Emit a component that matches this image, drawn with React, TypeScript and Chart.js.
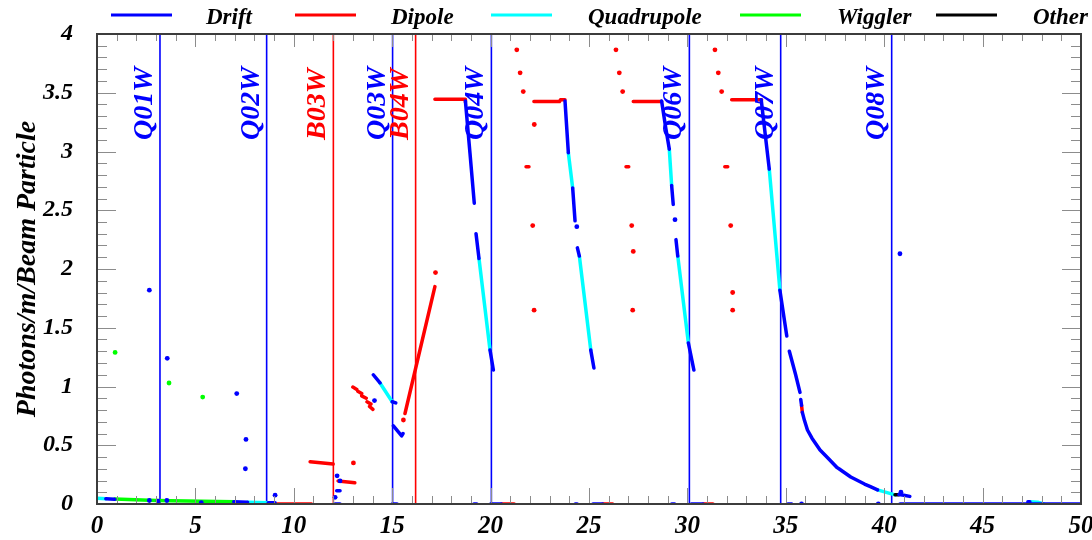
import React, { useEffect, useRef } from 'react';
import { Chart, registerables } from 'chart.js';
Chart.register(...registerables);

type Pt = [number, number];
type Seg = Pt[];

// ---- data (x in m, y in photons/m/beam particle); single-point segments are dots
const DRIFT: Seg[] = [
  [[0.45, 0.045], [0.9, 0.04]],
  [[2.66, 0.03]], [[3.1, 0.025]], [[3.55, 0.03]], [[5.3, 0.012]],
  [[6.95, 0.02], [7.65, 0.015]],
  [[8.7, 0.01], [9.05, 0.01]],
  [[2.66, 1.82]], [[3.57, 1.24]], [[7.1, 0.94]], [[7.57, 0.55]], [[7.54, 0.3]], [[9.05, 0.075]],
  [[12.1, 0.057]], [[12.18, 0.113], [12.35, 0.113]], [[12.2, 0.24]], [[12.35, 0.196]], [[12.1, 0], [12.35, 0]],
  [[14.04, 1.1], [14.38, 1.03]], [[15.0, 0.87], [15.18, 0.86]],
  [[14.1, 0.88]],
  [[15.06, 0.665], [15.48, 0.58], [15.55, 0.6]],
  [[15.0, 0], [15.25, 0]], [[19.15, 0], [19.3, 0]], [[20.0, 0], [20.55, 0]], [[24.3, 0], [24.4, 0]],
  [[25.2, 0], [25.7, 0]], [[29.2, 0], [29.35, 0]], [[30.2, 0], [30.8, 0]], [[35.1, 0], [35.3, 0]],
  [[35.8, 0]], [[39.7, 0]], [[40.8, 0], [50, 0]],
  [[18.72, 3.43], [18.95, 2.99], [19.17, 2.56]], [[19.26, 2.3], [19.41, 2.09]], [[19.97, 1.31], [20.14, 1.14]],
  [[23.78, 3.43], [23.95, 2.99]], [[24.17, 2.69], [24.29, 2.41]], [[24.38, 2.36]], [[24.41, 2.18], [24.51, 2.11]], [[25.09, 1.31], [25.25, 1.157]],
  [[28.69, 3.43], [28.9, 3.2], [29.08, 3.02]], [[29.2, 2.71], [29.28, 2.55]], [[29.37, 2.42]], [[29.42, 2.25], [29.51, 2.11]], [[30.05, 1.37], [30.33, 1.14]],
  [[33.75, 3.44], [34.16, 2.85]], [[34.7, 1.82], [35.05, 1.43]], [[35.18, 1.3], [35.5, 1.1], [35.72, 0.95]], [[35.76, 0.89], [35.8, 0.84]],
  [[35.84, 0.78], [35.95, 0.71], [36.1, 0.63], [36.33, 0.56], [36.74, 0.46], [37.15, 0.39], [37.6, 0.31], [37.7, 0.3],
   [38.3, 0.23], [39.0, 0.17], [39.3, 0.148], [39.66, 0.12]],
  [[40.75, 0.08], [41.0, 0.075], [41.3, 0.065]], [[40.85, 0.1]],
  [[40.8, 2.13]],
  [[47.3, 0.02], [47.4, 0.02]],
];

const DIPOLE: Seg[] = [
  [[9.13, 0], [10.9, 0]],
  [[10.83, 0.36], [12.0, 0.34]],
  [[12.25, 0.196], [13.1, 0.18]],
  [[13.03, 0.35]],
  [[13.0, 0.995], [13.2, 0.975]], [[13.25, 0.96], [13.45, 0.94]], [[13.45, 0.92], [13.68, 0.9]],
  [[13.72, 0.87], [13.92, 0.85]], [[13.85, 0.83], [14.02, 0.805]],
  [[15.57, 0.715]],
  [[15.65, 0.77], [17.17, 1.85]],
  [[17.2, 1.97]],
  [[17.17, 3.445], [18.72, 3.445], [18.72, 3.42]],
  [[21.33, 3.865]], [[21.5, 3.67]], [[21.66, 3.51]], [[22.22, 3.23]], [[21.8, 2.87], [21.95, 2.87]], [[22.14, 2.37]], [[22.21, 1.65]],
  [[22.2, 3.425], [23.5, 3.425], [23.55, 3.44], [23.78, 3.44]],
  [[20.55, 0], [21.2, 0]], [[25.7, 0], [26.2, 0]], [[30.8, 0], [31.3, 0]],
  [[26.37, 3.865]], [[26.54, 3.67]], [[26.71, 3.51]], [[26.88, 2.87], [27.02, 2.87]], [[27.17, 2.37]], [[27.25, 2.15]], [[27.22, 1.65]],
  [[27.25, 3.425], [28.69, 3.425]],
  [[31.4, 3.865]], [[31.57, 3.67]], [[31.74, 3.51]], [[31.9, 2.87], [32.05, 2.87]], [[32.2, 2.37]], [[32.3, 1.8]], [[32.3, 1.65]],
  [[32.25, 3.44], [33.77, 3.44]],
  [[35.8, 0.84], [35.84, 0.78]],
];

const QUADRUPOLE: Seg[] = [
  [[0, 0.05], [0.45, 0.045]],
  [[7.65, 0.015], [8.7, 0.01]],
  [[14.38, 1.03], [15.0, 0.87]],
  [[19.41, 2.09], [19.97, 1.31]],
  [[23.95, 2.99], [24.17, 2.69]],
  [[24.51, 2.11], [25.09, 1.31]],
  [[29.08, 3.02], [29.2, 2.71]],
  [[29.51, 2.11], [30.05, 1.37]],
  [[34.16, 2.85], [34.7, 1.82]],
  [[39.66, 0.12], [40.55, 0.078]],
  [[47.4, 0.02], [47.8, 0.015], [48.1, 0]],
];

const WIGGLER: Seg[] = [
  [[0.9, 0.042], [3.0, 0.03], [6.95, 0.02]],
  [[0.92, 1.29]], [[3.66, 1.03]], [[5.37, 0.91]],
];

const OTHER: Seg[] = [
  [[40.55, 0.078], [40.75, 0.078]],
];

const MAGNET_NAMES = ['Q01W', 'Q02W', 'B03W', 'Q03W', 'B04W', 'Q04W', 'Q06W', 'Q07W', 'Q08W'];
const MAGNET_POS = [3.2, 8.62, 12.01, 15.02, 16.19, 20.04, 30.1, 34.74, 40.38];
const MAGNET_KIND = ['Q', 'Q', 'B', 'Q', 'B', 'Q', 'Q', 'Q', 'Q'];

const LEGEND_LABELS = ['Drift', 'Dipole', 'Quadrupole', 'Wiggler', 'Other'];
const Y_TITLE = 'Photons/m/Beam Particle';
const X_MIN = 0, X_MAX = 50, X_STEP = 5, X_MINOR = 1;
const Y_MIN = 0, Y_MAX = 4, Y_STEP = 0.5, Y_MINOR = 0.1;

// ---- styles / layout
const BLUE = 'rgb(0,0,255)';
const RED = 'rgb(255,0,0)';
const CYAN = 'rgb(0,255,255)';
const GREEN = 'rgb(0,255,0)';
const BLACK = 'rgb(0,0,0)';
const LEGEND_COLORS = [BLUE, RED, CYAN, GREEN, BLACK];
const LEGEND_LINE_X = [111, 295, 491, 740, 936];
const LEGEND_TEXT_X = [206, 391, 588, 837, 1033];
const FONT = "'Liberation Serif', 'Times New Roman', serif";

function toData(segs: Seg[]) {
  const out: { x: number; y: number | null }[] = [];
  segs.forEach((s, i) => {
    if (i > 0) out.push({ x: s[0][0], y: null });
    s.forEach(([x, y]) => out.push({ x, y }));
  });
  return out;
}

function magnetData(kind: string) {
  const segs: Seg[] = [];
  MAGNET_POS.forEach((p, i) => {
    if (MAGNET_KIND[i] === kind) segs.push([[p, Y_MIN], [p, Y_MAX]]);
  });
  return toData(segs);
}

const dotRadius = (ctx: any) => {
  const d = ctx.dataset.data;
  const i = ctx.dataIndex;
  const prev = d[i - 1];
  const next = d[i + 1];
  const iso = (!prev || prev.y === null) && (!next || next.y === null);
  return iso ? 2.4 : 0;
};

function series(label: string, segs: Seg[], color: string, order: number) {
  return {
    label,
    data: toData(segs),
    showLine: true,
    spanGaps: false,
    borderColor: color,
    backgroundColor: color,
    borderWidth: 3.5,
    borderCapStyle: 'round',
    borderJoinStyle: 'round',
    tension: 0,
    pointRadius: dotRadius,
    pointBorderWidth: 0,
    pointHoverRadius: 0,
    order,
  };
}

const framePlugin = {
  id: 'frameTicks',
  afterDatasetsDraw(chart: any) {
    const { ctx, chartArea: a, scales } = chart;
    const xs = scales.x, ys = scales.y;
    ctx.save();
    // magnet labels
    ctx.font = `italic bold 28px ${FONT}`;
    ctx.textAlign = 'left';
    ctx.textBaseline = 'alphabetic';
    MAGNET_NAMES.forEach((n, i) => {
      const px = xs.getPixelForValue(MAGNET_POS[i]);
      ctx.save();
      ctx.translate(px - 8, 140);
      ctx.rotate(-Math.PI / 2);
      ctx.fillStyle = MAGNET_KIND[i] === 'Q' ? BLUE : RED;
      ctx.fillText(n, 0, 0);
      ctx.restore();
    });
    // ticks
    ctx.strokeStyle = '#8c8c8c';
    ctx.lineWidth = 1;
    ctx.beginPath();
    const nx = Math.round((X_MAX - X_MIN) / X_MINOR);
    for (let k = 0; k <= nx; k++) {
      const v = X_MIN + k * X_MINOR;
      const px = Math.round(xs.getPixelForValue(v)) + 0.5;
      const major = k % Math.round(X_STEP / X_MINOR) === 0;
      ctx.moveTo(px, a.bottom);
      ctx.lineTo(px, a.bottom - (major ? 16 : 8));
      ctx.moveTo(px, a.top);
      ctx.lineTo(px, a.top + (major ? 13 : 7));
    }
    const ny = Math.round((Y_MAX - Y_MIN) / Y_MINOR);
    for (let k = 0; k <= ny; k++) {
      const v = Y_MIN + k * Y_MINOR;
      const py = Math.round(ys.getPixelForValue(v)) + 0.5;
      const major = k % Math.round(Y_STEP / Y_MINOR) === 0;
      ctx.moveTo(a.left, py);
      ctx.lineTo(a.left + (major ? 19 : 10), py);
      ctx.moveTo(a.right, py);
      ctx.lineTo(a.right - (major ? 19 : 10), py);
    }
    ctx.stroke();
    // frame
    ctx.strokeStyle = '#3c3c3c';
    ctx.lineWidth = 2;
    ctx.strokeRect(a.left, a.top, a.right - a.left, a.bottom - a.top);
    // legend
    ctx.font = `italic bold 23px ${FONT}`;
    ctx.textAlign = 'left';
    ctx.textBaseline = 'alphabetic';
    LEGEND_LABELS.forEach((l, i) => {
      ctx.strokeStyle = LEGEND_COLORS[i];
      ctx.lineWidth = 3;
      ctx.beginPath();
      ctx.moveTo(LEGEND_LINE_X[i], 15);
      ctx.lineTo(LEGEND_LINE_X[i] + 61, 15);
      ctx.stroke();
      ctx.fillStyle = BLACK;
      ctx.fillText(l, LEGEND_TEXT_X[i], 23.5);
    });
    ctx.restore();
  },
};

const fmt = (v: any) => String(Math.round(Number(v) * 100) / 100);

export default function App() {
  const ref = useRef<HTMLCanvasElement | null>(null);
  useEffect(() => {
    if (!ref.current) return;
    const chart = new Chart(ref.current, {
      type: 'scatter',
      data: {
        datasets: [
          series('Drift', DRIFT, BLUE, 1),
          series('Other', OTHER, BLACK, 2),
          series('Dipole', DIPOLE, RED, 3),
          series('Quadrupole', QUADRUPOLE, CYAN, 4),
          series('Wiggler', WIGGLER, GREEN, 5),
          {
            label: 'Q magnets', data: magnetData('Q'), showLine: true, spanGaps: false,
            borderColor: BLUE, borderWidth: 1.6, pointRadius: 0, pointHoverRadius: 0, order: 10,
          },
          {
            label: 'B magnets', data: magnetData('B'), showLine: true, spanGaps: false,
            borderColor: RED, borderWidth: 1.6, pointRadius: 0, pointHoverRadius: 0, order: 11,
          },
        ] as any,
      },
      options: {
        animation: false,
        responsive: false,
        events: [],
        layout: { padding: { top: 34, right: 11, left: 0, bottom: 0 } },
        plugins: { legend: { display: false }, tooltip: { enabled: false } },
        scales: {
          x: {
            type: 'linear', min: X_MIN, max: X_MAX,
            afterFit: (s: any) => { s.height = 36; s.paddingLeft = 0; s.paddingRight = 0; },
            grid: { display: false, drawTicks: false, tickLength: 0 },
            border: { display: false },
            ticks: {
              stepSize: X_STEP, autoSkip: false, maxRotation: 0, padding: 8, color: BLACK,
              callback: fmt,
              font: { family: FONT, size: 25, weight: 'bold', style: 'italic' },
            },
          },
          y: {
            type: 'linear', min: Y_MIN, max: Y_MAX,
            afterFit: (s: any) => { s.width = 97; s.paddingTop = 0; s.paddingBottom = 0; },
            grid: { display: false, drawTicks: false, tickLength: 0 },
            border: { display: false },
            ticks: {
              stepSize: Y_STEP, autoSkip: false, padding: 24, color: BLACK,
              callback: fmt,
              font: { family: FONT, size: 24, weight: 'bold', style: 'italic' },
            },
            title: {
              display: true, text: Y_TITLE, color: BLACK, padding: { top: 11, bottom: 0 },
              font: { family: FONT, size: 28, weight: 'bold', style: 'italic' },
            },
          },
        },
      } as any,
      plugins: [framePlugin],
    });
    return () => chart.destroy();
  }, []);
  return (
    <div style={{ position: 'absolute', left: 0, top: 0, width: 1092, height: 540, background: '#fff' }}>
      <canvas ref={ref} width={1092} height={540} />
    </div>
  );
}
